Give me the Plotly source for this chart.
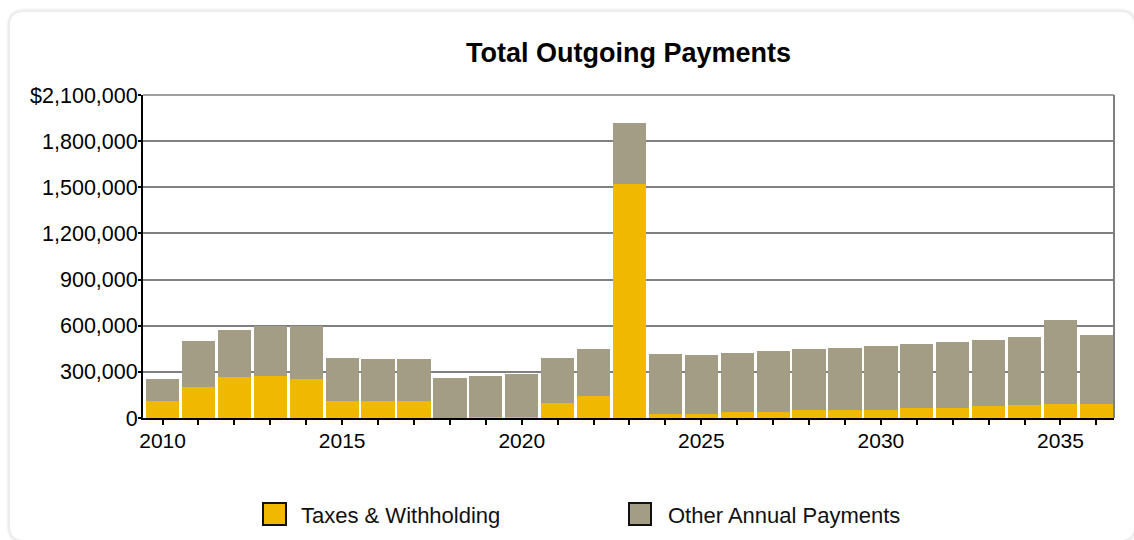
import plotly.graph_objects as go

# Annual outgoing payments, 2010-2036
years = list(range(2010, 2037))
taxes_withholding = [108000, 200000, 264000, 271000, 251000, 108000, 108000, 108000,
                     1000, 8000, 8000, 95000, 140000, 1522000, 29000, 29000, 36000,
                     42000, 51000, 51000, 55000, 62000, 68000, 75000, 82000, 88000, 88000]
other_payments = [143000, 299000, 307000, 324000, 344000, 280000, 274000, 274000,
                  256000, 263000, 276000, 293000, 307000, 395000, 385000, 379000, 385000,
                  392000, 396000, 402000, 411000, 417000, 424000, 430000, 443000, 548000, 450000]

y_tick_values = [0, 300000, 600000, 900000, 1200000, 1500000, 1800000, 2100000]
y_tick_labels = ["0", "300,000", "600,000", "900,000", "1,200,000", "1,500,000",
                 "1,800,000", "$2,100,000"]
x_tick_labels = [str(y) if y % 5 == 0 else "" for y in years]

series_names = ["Taxes & Withholding", "Other Annual Payments"]
series_colors = ["#F0B900", "#A39D85"]

W, H = 1134, 540
L, R, T, B = 143, 20, 95, 122
PW, PH = W - L - R, H - T - B
FONT = "Liberation Sans, Arial, sans-serif"


def px_x(px):
    return (px - L) / PW


def px_y(py):
    return (H - B - py) / PH


def rounded_rect(x0, y0, x1, y1, r):
    # rounded rectangle path in paper units from pixel corners
    pts = [
        ("M", [(x0 + r, y0)]), ("L", [(x1 - r, y0)]), ("Q", [(x1, y0), (x1, y0 + r)]),
        ("L", [(x1, y1 - r)]), ("Q", [(x1, y1), (x1 - r, y1)]), ("L", [(x0 + r, y1)]),
        ("Q", [(x0, y1), (x0, y1 - r)]), ("L", [(x0, y0 + r)]), ("Q", [(x0, y0), (x0 + r, y0)]),
    ]
    parts = []
    for cmd, coords in pts:
        parts.append(cmd + " ".join(f"{px_x(a):.5f},{px_y(b):.5f}" for a, b in coords))
    return " ".join(parts) + " Z"


fig = go.Figure()
fig.add_trace(go.Bar(x=years, y=taxes_withholding, name=series_names[0],
                     marker=dict(color=series_colors[0], line=dict(width=0))))
fig.add_trace(go.Bar(x=years, y=other_payments, name=series_names[1],
                     marker=dict(color=series_colors[1], line=dict(width=0))))

shapes = []
# card with soft shadow
for i, a in enumerate([0.018, 0.022, 0.03]):
    g = 4 - i
    shapes.append(dict(type="path", xref="paper", yref="paper", layer="below",
                       path=rounded_rect(10 - g, 12 - g, 1134 + g, 540 + g, 14 + g),
                       fillcolor=f"rgba(0,0,0,{a})", line=dict(width=0)))
shapes.append(dict(type="path", xref="paper", yref="paper", layer="below",
                   path=rounded_rect(10, 12, 1134, 540, 14),
                   fillcolor="white", line=dict(width=0)))
# plot frame: top and right edges
shapes.append(dict(type="line", xref="paper", yref="paper", x0=0, x1=1, y0=1, y1=1,
                   line=dict(color="#808080", width=1.5)))
shapes.append(dict(type="line", xref="paper", yref="paper", x0=1, x1=1, y0=0, y1=1,
                   line=dict(color="#808080", width=2)))

# legend swatches
legend_boxes = [(263, 286), (629, 651)]
legend_text_x = [299, 666]
annotations = []
for (bx0, bx1), tx, name, col in zip(legend_boxes, legend_text_x, series_names, series_colors):
    shapes.append(dict(type="rect", xref="paper", yref="paper",
                       x0=px_x(bx0), x1=px_x(bx1), y0=px_y(525), y1=px_y(503),
                       fillcolor=col, line=dict(color="#111111", width=2)))
    annotations.append(dict(x=px_x(tx), y=px_y(515), xref="paper", yref="paper",
                            xanchor="left", yanchor="middle", showarrow=False, text=name,
                            font=dict(family=FONT, size=22, color="#111111")))

fig.update_layout(
    width=W, height=H,
    margin=dict(l=L, r=R, t=T, b=B, pad=0),
    barmode="stack", bargap=0.073,
    paper_bgcolor="white", plot_bgcolor="rgba(0,0,0,0)",
    showlegend=False,
    title=dict(text="<b>Total Outgoing Payments</b>", x=px_x(628.5), xref="paper",
               xanchor="center", y=1 - 53 / H, yref="container", yanchor="middle",
               font=dict(family=FONT, size=27, color="#000000")),
    font=dict(family=FONT, size=21, color="#000000"),
    xaxis=dict(range=[2009.455, 2036.49], tickmode="array", tickvals=years,
               ticktext=x_tick_labels, ticks="outside", ticklen=5, tickwidth=1.5,
               tickcolor="#000000", showgrid=False, showline=True, linecolor="#000000",
               linewidth=2, zeroline=False, ticklabelstandoff=-2,
               tickfont=dict(size=21, color="#000000")),
    yaxis=dict(range=[0, 2100000], tickmode="array", tickvals=y_tick_values,
               ticktext=y_tick_labels, ticks="outside", ticklen=3, tickwidth=1.5,
               tickcolor="#000000", showgrid=True, gridcolor="#808080", gridwidth=1.5,
               showline=True, linecolor="#000000", linewidth=2, zeroline=False,
               ticklabelstandoff=-4,
               tickfont=dict(size=21.5, color="#000000")),
    shapes=shapes, annotations=annotations,
)

fig.write_html("out.html")
